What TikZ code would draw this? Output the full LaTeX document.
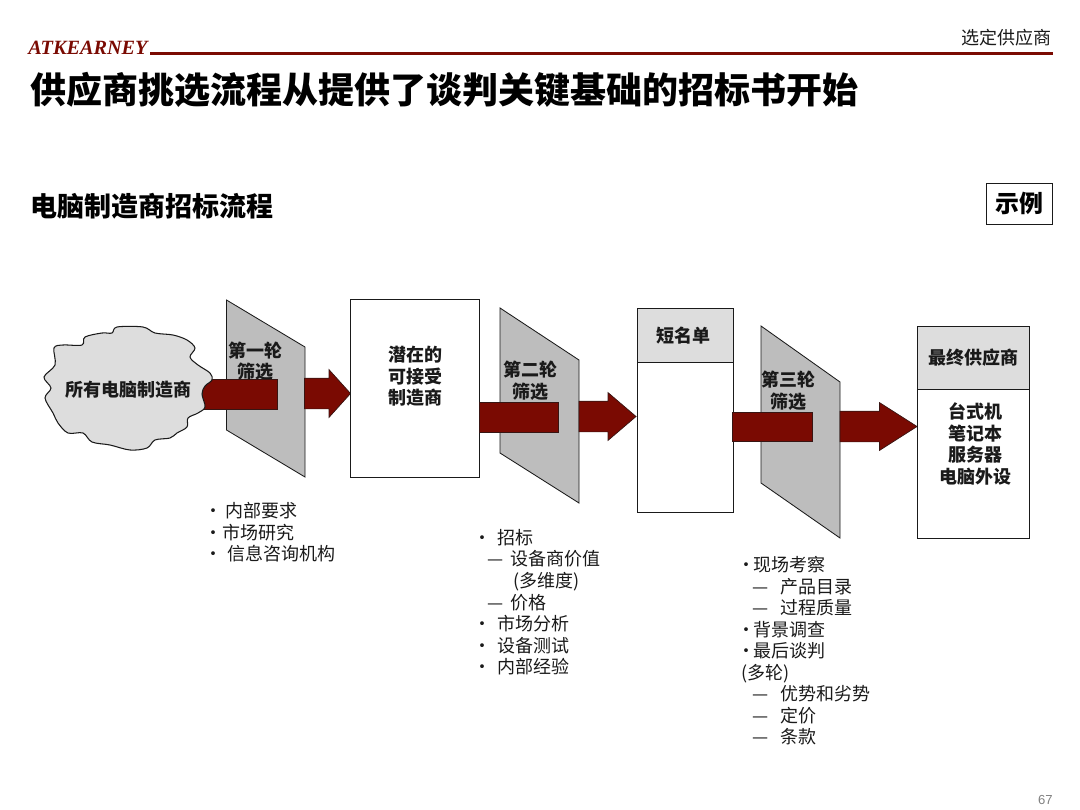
\documentclass[tikz,border=0pt]{standalone}
\usepackage{fontspec}
\usepackage{xcolor}
\setmainfont{Noto Sans CJK SC}
\newfontfamily\logofont{Liberation Serif}
\newfontfamily\numfont{Liberation Sans}
\usetikzlibrary{arrows.meta, positioning, shapes.arrows}
\definecolor{kred}{HTML}{7A0A02}
\definecolor{lgray}{HTML}{DDDDDD}
\definecolor{mgray}{HTML}{BDBDBD}
\definecolor{ink}{HTML}{1A1A1A}
\newcommand{\lst}[2]{\makebox[#1][l]{#2}}
\newcommand{\bul}{\hspace*{-3pt}•}

\begin{document}
\begin{tikzpicture}[
    x=0.025cm, y=-0.025cm,
    box/.style    = {draw=ink, line width=0.65pt, fill=white, inner sep=0pt, outer sep=0pt},
    hdr/.style    = {box, fill=lgray},
    funnel/.style = {draw=ink, line width=0.6pt, fill=mgray},
    redbar/.style = {draw=ink!70!kred, line width=0.5pt, fill=kred, inner sep=0pt, outer sep=0pt},
    redarr/.style = {redbar, single arrow, anchor=tail, inner xsep=0pt, inner ysep=0.375cm,
                     single arrow head extend=0.2125cm},
    lbl/.style    = {font=\fontsize{12.8}{15.3}\selectfont\bfseries, text=ink,
                     align=center, inner sep=0pt},
    lst/.style    = {font=\fontsize{12.8}{15.32}\selectfont, text=ink, align=left,
                     anchor=north west, inner sep=0pt},
]
    \useasboundingbox (0,0) rectangle (1080,810);

    % ── Header ──
    \node[anchor=west, inner sep=0pt, text=kred, font=\logofont\fontsize{14.4}{15}\selectfont\bfseries\itshape] (logo) at (28,47.5) {ATKEARNEY};
    \fill[kred] (150,52) rectangle (1053,55);
    \node[anchor=east, inner sep=0pt, text=ink, font=\fontsize{12.8}{15}\selectfont] (chapter) at (1052,38) {选定供应商};
    \node[anchor=west, inner sep=0pt, text=black, font=\fontsize{25.6}{30}\selectfont\bfseries] (title) at (30,90) {供应商挑选流程从提供了谈判关键基础的招标书开始};
    \node[anchor=west, inner sep=0pt, text=black, font=\fontsize{19.2}{24}\selectfont\bfseries] (subtitle) at (30,206) {电脑制造商招标流程};
    \node[box, minimum width=1.65cm, minimum height=1.025cm, font=\fontsize{17}{20}\selectfont\bfseries] (tag) at (1019,203.5) {示例};

    % ── First round ──
    \draw[funnel] (226.5,300) -- (305,347) -- (305,477) -- (226.5,430) -- cycle;
    \node[lbl] (round1) at (255,361) {第一轮\\筛选};
    \node[redbar, minimum width=1.875cm, minimum height=0.75cm] (bar1) at (239.5,394) {};
    \draw[draw=ink, line width=0.75pt, fill=lgray] plot[smooth cycle, tension=0.55] coordinates {
        (54,348) (63,345) (82,345) (85,337) (102,333) (112,333) (117,327) (143,327)
        (155,333) (173,335) (187,340) (195,348) (190,357) (198,365) (210,373) (212,380)
        (205,386) (202,394) (205,407) (198,413) (188,418) (187,427) (177,433) (170,438)
        (155,440) (147,448) (130,450) (110,445) (92,442) (83,433) (68,433) (58,423)
        (53,413) (45,398) (51,388) (44,377) (55,365)};
    \node[lbl] (allmakers) at (128.5,389.5) {所有电脑制造商};
    \node[redarr, minimum height=1.15cm, single arrow tip angle=96] (arr1) at (304.5,393.5) {};

    % ── Candidates ──
    \node[box, minimum width=3.225cm, minimum height=4.45cm] (cands) at (414.5,388) {};
    \node[lbl] (candstxt) at (415,376.5) {潜在的\\可接受\\制造商};

    % ── Second round ──
    \draw[funnel] (500,308) -- (579,360) -- (579,503) -- (500,453) -- cycle;
    \node[lbl] (round2) at (530,380.5) {第二轮\\筛选};
    \node[redbar, minimum width=1.975cm, minimum height=0.75cm] (bar2) at (518.5,417) {};
    \node[redarr, minimum height=1.425cm, single arrow tip angle=81] (arr2) at (579,416.5) {};

    % ── Short list ──
    \node[box, minimum width=2.4cm, minimum height=3.75cm] (shortbody) at (685,437) {};
    \node[hdr, minimum width=2.4cm, minimum height=1.35cm] (shorthdr) at (685,335) {};
    \node[lbl] (shorttxt) at (683,336) {短名单};

    % ── Third round ──
    \draw[funnel] (761,326) -- (840,382) -- (840,538) -- (761,483) -- cycle;
    \node[lbl] (round3) at (788,390.5) {第三轮\\筛选};
    \node[redbar, minimum width=2cm, minimum height=0.725cm] (bar3) at (772,426.5) {};
    \node[redarr, minimum height=1.925cm, single arrow tip angle=65] (arr3) at (840,426.5) {};

    % ── Final supplier ──
    \node[box, minimum width=2.8cm, minimum height=3.725cm] (finalbody) at (973,463.5) {};
    \node[hdr, minimum width=2.8cm, minimum height=1.575cm] (finalhdr) at (973,357.5) {};
    \node[lbl] (finaltxt) at (973,358) {最终供应商};
    \node[lbl] (products) at (975,444) {台式机\\笔记本\\服务器\\电脑外设};

    % ── Lists ──
    \node[lst] (list1) at (208,502) {%
        \lst{12pt}{\bul}内部要求\\
        \lst{10pt}{\bul}市场研究\\
        \lst{13.5pt}{\bul}信息咨询机构};
    \node[lst] (list2) at (477,529) {%
        \lst{14.2pt}{\bul}招标\\
        \lst{23.5pt}{\hspace*{7.1pt}—}设备商价值\\
        \hspace*{25.6pt}(多维度)\\
        \lst{23.5pt}{\hspace*{7.1pt}—}价格\\
        \lst{14.2pt}{\bul}市场分析\\
        \lst{14.2pt}{\bul}设备测试\\
        \lst{14.2pt}{\bul}内部经验};
    \node[lst] (list3) at (741,556) {%
        \lst{8.5pt}{\bul}现场考察\\
        \lst{27.7pt}{\hspace*{7.8pt}—}产品目录\\
        \lst{27.7pt}{\hspace*{7.8pt}—}过程质量\\
        \lst{8.5pt}{\bul}背景调查\\
        \lst{8.5pt}{\bul}最后谈判\\
        (多轮)\\
        \lst{27.7pt}{\hspace*{7.8pt}—}优势和劣势\\
        \lst{27.7pt}{\hspace*{7.8pt}—}定价\\
        \lst{27.7pt}{\hspace*{7.8pt}—}条款};

    % ── Page number ──
    \node[anchor=east, inner sep=0pt, text=gray, font=\numfont\fontsize{9.3}{11}\selectfont] (page) at (1053,800) {67};

\end{tikzpicture}
\end{document}
